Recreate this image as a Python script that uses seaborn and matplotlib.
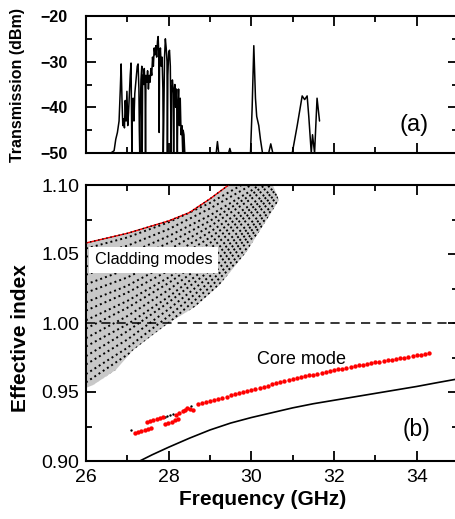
import numpy as np
import matplotlib
matplotlib.use("Agg")
import matplotlib.pyplot as plt
import seaborn as sns

# ---- panel (a): transmission spectrum ----
trans_freq = [26.00, 26.60, 26.68, 26.72, 26.76, 26.80, 26.83, 26.85, 26.87, 26.89,
              26.91, 26.93, 26.95, 26.97, 26.99, 27.01, 27.03, 27.05, 27.07, 27.09,
              27.10, 27.11, 27.12, 27.14, 27.16, 27.18, 27.20, 27.22, 27.24, 27.26,
              27.28, 27.29, 27.30, 27.31, 27.33, 27.35, 27.36, 27.37, 27.39, 27.41,
              27.43, 27.44, 27.45, 27.47, 27.49, 27.51, 27.53, 27.55, 27.57, 27.59,
              27.61, 27.63, 27.65, 27.67, 27.69, 27.71, 27.73, 27.745, 27.76, 27.77,
              27.78, 27.80, 27.82, 27.84, 27.86, 27.87, 27.88, 27.90, 27.92, 27.94,
              27.96, 27.97, 27.98, 28.00, 28.02, 28.04, 28.06, 28.07, 28.09, 28.11,
              28.12, 28.13, 28.15, 28.17, 28.19, 28.21, 28.22, 28.24, 28.26, 28.28,
              28.30, 28.32, 28.34, 28.35, 28.37, 28.39,
              29.15, 29.18, 29.21, 29.45, 29.48, 29.51,
              29.98, 30.02, 30.06, 30.10, 30.13, 30.18, 30.22, 30.27,
              30.42, 30.47, 30.52,
              30.99, 31.11, 31.23, 31.29, 31.35, 31.39, 31.45, 31.48, 31.53, 31.59, 31.65]
trans_dbm = [-50, -50, -49.5, -47, -45.5, -43, -36, -30.5, -38, -44,
             -42.5, -44.5, -38.5, -43, -36.5, -44, -41, -37, -33, -30.3,
             -40, -50, -42, -38, -43, -37, -35, -33, -31, -30.5,
             -36, -45, -50, -42, -34, -31, -50, -33, -35, -31.5,
             -36, -50, -33, -34.5, -32, -36, -33, -34.5, -31.5, -33,
             -29, -31, -27, -28.5, -26.5, -29, -25.5, -24.5, -28, -45.5,
             -30, -27, -31, -29, -36, -50, -44, -29, -25, -27,
             -30, -50, -33, -28, -27.5, -31, -50, -37, -34, -36,
             -50, -38, -35, -40, -36, -50, -41, -36, -44, -38,
             -46, -44, -50, -45, -46, -50,
             -50, -47.5, -50, -50, -49, -50,
             -50, -40, -26.5, -38, -42, -44, -47, -50,
             -50, -48, -50,
             -50, -44, -37.5, -38.3, -37.5, -42, -50, -46, -50, -38, -43]

# ---- panel (b): effective index ----
clad_top_freq = [26.0, 27.0, 28.0, 28.5, 29.0, 29.45]
clad_top_neff = [1.058, 1.065, 1.074, 1.080, 1.090, 1.100]
clad_low_freq = [26.0, 26.17, 26.72, 27.13, 27.6, 28.0, 28.65, 29.23, 29.88, 30.67, 30.45]
clad_low_neff = [0.953, 0.955, 0.966, 0.980, 0.991, 1.000, 1.012, 1.0275, 1.0515, 1.089, 1.105]

clad_mode_freq = [26, 27, 28, 29, 30, 31]
clad_mode_neff = [
    [1.054, 1.062, 1.073, 1.087, 1.104, 1.124],
    [1.048, 1.056, 1.068, 1.083, 1.100, 1.121],
    [1.041, 1.050, 1.063, 1.078, 1.096, 1.117],
    [1.035, 1.045, 1.058, 1.074, 1.093, 1.114],
    [1.028, 1.039, 1.053, 1.070, 1.090, 1.111],
    [1.022, 1.033, 1.048, 1.066, 1.086, 1.108],
    [1.015, 1.027, 1.043, 1.062, 1.083, 1.105],
    [1.009, 1.022, 1.038, 1.058, 1.080, 1.102],
    [1.002, 1.016, 1.033, 1.054, 1.077, 1.099],
    [0.996, 1.011, 1.029, 1.050, 1.073, 1.096],
    [0.989, 1.005, 1.024, 1.046, 1.070, 1.093],
    [0.983, 0.999, 1.019, 1.042, 1.067, 1.090],
    [0.976, 0.994, 1.015, 1.038, 1.064, 1.088],
    [0.970, 0.988, 1.010, 1.034, 1.061, 1.085],
    [0.963, 0.982, 1.005, 1.030, 1.057, 1.082],
    [0.957, 0.977, 1.000, 1.026, 1.054, 1.080],
    [0.950, 0.971, 0.995, 1.022, 1.050, 1.077],
    [0.944, 0.966, 0.990, 1.018, 1.047, 1.074],
    [0.938, 0.961, 0.986, 1.014, 1.044, 1.071],
]

core_freq = [27.18, 27.26, 27.34, 27.42, 27.50, 27.58,
             27.47, 27.55, 27.63, 27.71, 27.79, 27.87,
             27.91, 27.99, 28.07, 28.15, 28.22,
             28.18, 28.26, 28.34, 28.40, 28.45, 28.52, 28.59,
             28.7, 28.8, 28.9, 29.0, 29.1, 29.2, 29.3, 29.4, 29.5, 29.6,
             29.7, 29.8, 29.9, 30.0, 30.1, 30.2, 30.3, 30.4, 30.5, 30.6,
             30.7, 30.8, 30.9, 31.0, 31.1, 31.2, 31.3, 31.4, 31.5, 31.6,
             31.7, 31.8, 31.9, 32.0, 32.1, 32.2, 32.3, 32.4, 32.5, 32.6,
             32.7, 32.8, 32.9, 33.0, 33.1, 33.2, 33.3, 33.4, 33.5, 33.6,
             33.7, 33.8, 33.9, 34.0, 34.1, 34.2, 34.3]
core_neff = [0.9203, 0.9210, 0.9217, 0.9224, 0.9231, 0.9238,
             0.9285, 0.9291, 0.9297, 0.9304, 0.9310, 0.9317,
             0.9268, 0.9277, 0.9286, 0.9295, 0.9303,
             0.9333, 0.9346, 0.9360, 0.9372, 0.9385, 0.9378, 0.9372,
             0.9410, 0.9418, 0.9426, 0.9434, 0.9443, 0.9451, 0.9459, 0.9467, 0.9475, 0.9483,
             0.9491, 0.9499, 0.9507, 0.9515, 0.9523, 0.9531, 0.9539, 0.9547, 0.9555, 0.9563,
             0.9570, 0.9578, 0.9585, 0.9592, 0.9599, 0.9606, 0.9613, 0.9620, 0.9626, 0.9633,
             0.9639, 0.9646, 0.9652, 0.9658, 0.9664, 0.9670, 0.9676, 0.9682, 0.9688, 0.9693,
             0.9699, 0.9704, 0.9710, 0.9715, 0.9720, 0.9725, 0.9730, 0.9735, 0.9740, 0.9745,
             0.9750, 0.9755, 0.9760, 0.9765, 0.9770, 0.9775, 0.9780]
core_black_freq = [27.10, 27.90, 27.97, 28.04, 28.11, 28.55]
core_black_neff = [0.9225, 0.9322, 0.9327, 0.9332, 0.9337, 0.9395]

line_freq = [27.3, 27.6, 28.0, 28.5, 29.0, 29.5, 30.0, 30.5, 31.0, 31.5,
             32.0, 32.5, 33.0, 33.5, 34.0, 34.5, 35.0, 35.3]
line_neff = [0.900, 0.9045, 0.910, 0.9165, 0.9225, 0.9275, 0.9315, 0.9350, 0.9385, 0.9415,
             0.9440, 0.9465, 0.9490, 0.9515, 0.9540, 0.9568, 0.9595, 0.9610]

sns.set_style("ticks")
plt.rcParams['font.family'] = ['Liberation Sans', 'DejaVu Sans']
plt.rcParams['axes.linewidth'] = 1.5
plt.rcParams['axes.edgecolor'] = 'black'
plt.rcParams['axes.labelcolor'] = 'black'
plt.rcParams['text.color'] = 'black'
plt.rcParams['xtick.color'] = 'black'
plt.rcParams['ytick.color'] = 'black'
plt.rcParams['xtick.direction'] = 'in'
plt.rcParams['ytick.direction'] = 'in'

fig = plt.figure(figsize=(4.55, 5.19), dpi=100)
ax1 = fig.add_axes([86 / 455, 366 / 519, 372 / 455, 137 / 519])
ax2 = fig.add_axes([86 / 455, 58 / 519, 372 / 455, 276 / 519])

# Panel (a)
sns.lineplot(x=trans_freq, y=trans_dbm, ax=ax1, color='black', lw=1.1, sort=False, estimator=None)
ax1.set_xlim(26, 35)
ax1.set_ylim(-50, -20)
ax1.set_xticks([26, 28, 30, 32, 34])
ax1.set_xticks(np.arange(26, 35.1, 1), minor=True)
ax1.set_yticks([-50, -40, -30, -20])
ax1.set_yticks([-45, -35, -25], minor=True)
ax1.tick_params(which='both', top=True, right=True, labelbottom=False, width=1.3)
ax1.tick_params(which='major', length=7)
ax1.tick_params(which='minor', length=4)
ax1.tick_params(axis='y', pad=13, labelsize=11.5)
for lbl in ax1.get_yticklabels():
    lbl.set_fontweight('bold')
ax1.set_ylabel('Transmission (dBm)', fontsize=11.5, fontweight='bold')
ax1.yaxis.set_label_coords(-0.165, 0.5)
ax1.text(33.58, -43.9, '(a)', fontsize=17, va='center', ha='left')

# Panel (b)
poly_x = clad_top_freq + clad_low_freq[::-1]
poly_y = clad_top_neff + clad_low_neff[::-1]
poly = ax2.fill(poly_x, poly_y, color='#c8c8c8', lw=0, zorder=1)[0]

for row in clad_mode_neff:
    sns.lineplot(x=clad_mode_freq, y=row, ax=ax2, color='black', lw=1.4,
                 linestyle=(0, (1, 1.6)), sort=False, estimator=None, zorder=2)
    ax2.lines[-1].set_clip_path(poly)

sns.lineplot(x=clad_top_freq, y=clad_top_neff, ax=ax2, color='red', lw=1.0, sort=False, estimator=None, zorder=3)
sns.lineplot(x=clad_top_freq, y=clad_top_neff, ax=ax2, color='black', lw=1.0,
             linestyle=(0, (1, 2)), sort=False, estimator=None, zorder=3)

ax2.axhline(1.0, color='black', lw=1.1, linestyle=(0, (6, 4)), zorder=2)

sns.lineplot(x=line_freq, y=line_neff, ax=ax2, color='black', lw=1.2, sort=False, estimator=None, zorder=3)
sns.scatterplot(x=core_black_freq, y=core_black_neff, ax=ax2, color='black', s=3, linewidth=0, zorder=4)
sns.scatterplot(x=core_freq, y=core_neff, ax=ax2, color='red', s=10, linewidth=0, zorder=4)

ax2.text(26.22, 1.0457, 'Cladding modes', fontsize=11.7, va='center', ha='left', zorder=5,
         bbox=dict(boxstyle='square,pad=0.35', facecolor='white', edgecolor='none'))
ax2.text(30.13, 0.9732, 'Core mode', fontsize=13, va='center', ha='left', zorder=5)
ax2.text(33.66, 0.9225, '(b)', fontsize=16.5, va='center', ha='left', zorder=5)

ax2.set_xlim(26, 35)
ax2.set_ylim(0.90, 1.10)
ax2.set_xticks([26, 28, 30, 32, 34])
ax2.set_xticks(np.arange(26, 35.1, 1), minor=True)
ax2.set_yticks([0.90, 0.95, 1.00, 1.05, 1.10])
ax2.set_yticks([0.925, 0.975, 1.025, 1.075], minor=True)
ax2.set_yticklabels(['0.90', '0.95', '1.00', '1.05', '1.10'])
ax2.tick_params(which='both', top=True, right=True, width=1.3, labelsize=14)
ax2.tick_params(which='major', length=7)
ax2.tick_params(which='minor', length=4)
ax2.tick_params(axis='x', pad=6)
ax2.tick_params(axis='y', pad=5)
ax2.set_xlabel('Frequency (GHz)', fontsize=15, fontweight='bold')
ax2.set_ylabel('Effective index', fontsize=15, fontweight='bold')
ax2.xaxis.set_label_coords(0.474, -0.105)
ax2.yaxis.set_label_coords(-0.15, 0.446)

plt.savefig('out.png', dpi=100)
plt.close()
